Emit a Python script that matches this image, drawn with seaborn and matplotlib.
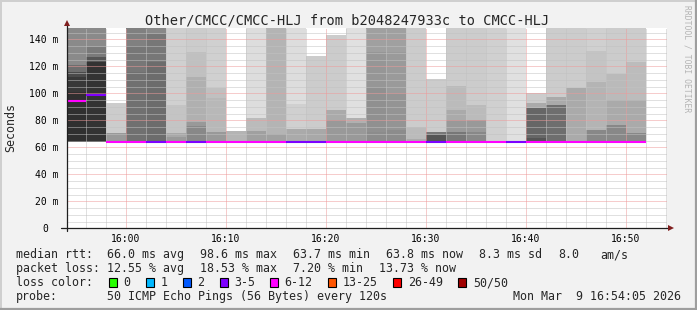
import matplotlib
matplotlib.use("Agg")
import matplotlib.pyplot as plt
from matplotlib.patches import Rectangle
from matplotlib.lines import Line2D
from matplotlib.ticker import MultipleLocator, FixedLocator
from matplotlib.transforms import ScaledTranslation
import numpy as np
import pandas as pd
import seaborn as sns

# ---------------- data ----------------
title = "Other/CMCC/CMCC-HLJ from b2048247933c to CMCC-HLJ"
slot_labels = ["15:54", "15:56", "15:58", "16:00", "16:02", "16:04", "16:06", "16:08",
               "16:10", "16:12", "16:14", "16:16", "16:18", "16:20", "16:22", "16:24",
               "16:26", "16:28", "16:30", "16:32", "16:34", "16:36", "16:38", "16:40",
               "16:42", "16:44", "16:46", "16:48", "16:50"]
median_rtt = [94.6, 99.0, 64.0, 64.0, 64.1, 63.9, 64.0, 64.0, 63.9, 64.0, 64.1, 64.0,
              63.9, 64.0, 64.0, 64.1, 64.0, 64.0, 63.9, 64.0, 64.0, 63.9, 64.0, 64.0,
              64.0, 63.9, 64.0, 64.0, 63.8]
loss_pings = [7, 4, 6, 8, 5, 7, 4, 6, 7, 6, 8, 5, 4, 7, 6, 9, 8, 6, 4, 6, 7, 6, 5, 8,
              7, 6, 6, 7, 7]
smoke_min = [63.8, 63.9, 63.8, 63.9, 63.9, 63.8, 63.9, 63.8, 63.9, 63.8, 63.9, 63.8,
             63.9, 63.8, 63.9, 63.8, 63.9, 63.8, 63.9, 63.8, 63.9, 63.8, 63.9, 63.8,
             63.9, 63.8, 63.9, 63.8, 63.8]
# smoke bands per slot, bottom -> top: upper rtt (ms) of each band
band_tops = [
    [101, 112, 116, 121, 149],
    [123, 127, 134, 149],
    [70.8, 92.6],
    [116, 135, 149],
    [123.4, 144, 149],
    [68, 70.4, 91.3, 149],
    [75.5, 79, 112.3, 130.8, 149],
    [71.6, 96.3, 103.7, 149],
    [72],
    [72, 82, 149],
    [70, 149],
    [73.8, 92.3, 149],
    [73.8, 127.8],
    [80.5, 87.6, 143.3],
    [78, 81.4, 149],
    [71.6, 104.9, 130.8, 149],
    [73, 100, 130.8, 149],
    [66, 75.3, 149],
    [69, 71.6, 110.6],
    [71.6, 80, 87.6, 105.4, 149],
    [71.6, 80, 91.3, 149],
    [149],
    [149],
    [67, 88.9, 92.6, 100.5],
    [91.3, 97.5, 149],
    [103.7, 149],
    [72.7, 108.6, 131, 149],
    [76.4, 95, 114, 149],
    [70.7, 95, 123.3, 149],
]
band_grays = [
    ["#2f2f2f", "#383838", "#4a4a4a", "#6e6e6e", "#8a8a8a"],
    ["#333333", "#555555", "#7a7a7a", "#8a8a8a"],
    ["#999999", "#cccccc"],
    ["#707070", "#777777", "#808080"],
    ["#6c6c6c", "#777777", "#888888"],
    ["#999999", "#a8a8a8", "#c4c4c4", "#d0d0d0"],
    ["#888888", "#999999", "#b0b0b0", "#c0c0c0", "#cccccc"],
    ["#999999", "#b8b8b8", "#c0c0c0", "#d0d0d0"],
    ["#b4b4b4"],
    ["#a0a0a0", "#bbbbbb", "#dddddd"],
    ["#a0a0a0", "#b4b4b4"],
    ["#aaaaaa", "#d0d0d0", "#dddddd"],
    ["#a8a8a8", "#cccccc"],
    ["#999999", "#aaaaaa", "#cccccc"],
    ["#999999", "#b0b0b0", "#e0e0e0"],
    ["#8c8c8c", "#909090", "#969696", "#a0a0a0"],
    ["#8c8c8c", "#949494", "#9a9a9a", "#a0a0a0"],
    ["#aaaaaa", "#bbbbbb", "#cccccc"],
    ["#555555", "#777777", "#cccccc"],
    ["#777777", "#999999", "#aaaaaa", "#bbbbbb", "#cccccc"],
    ["#888888", "#999999", "#bbbbbb", "#cccccc"],
    ["#d0d0d0"],
    ["#e0e0e0"],
    ["#555555", "#666666", "#aaaaaa", "#cccccc"],
    ["#6e6e6e", "#aaaaaa", "#cccccc"],
    ["#aaaaaa", "#cccccc"],
    ["#888888", "#b4b4b4", "#c4c4c4", "#d0d0d0"],
    ["#888888", "#aaaaaa", "#bababa", "#cccccc"],
    ["#888888", "#aaaaaa", "#bcbcbc", "#cccccc"],
]
loss_bin_labels = ["0", "1", "2", "3-5", "6-12", "13-25", "26-49", "50/50"]
loss_bin_lower = [0, 1, 2, 3, 6, 13, 26, 50]
loss_bin_colors = ["#26ff00", "#00b8ff", "#0059ff", "#7e00ff", "#ff00ff", "#ff5500",
                   "#ff0000", "#a10000"]
ytick_values = [0, 20, 40, 60, 80, 100, 120, 140]
ytick_labels = ["0", "20 m", "40 m", "60 m", "80 m", "100 m", "120 m", "140 m"]
xtick_labels = ["16:00", "16:10", "16:20", "16:30", "16:40", "16:50"]
graph_start = "15:54:05"
graph_end = "16:54:05"
rtt_row = ["median rtt:", "66.0 ms avg", "98.6 ms max", "63.7 ms min", "63.8 ms now",
           "8.3 ms sd", "8.0", "am/s"]
loss_row = ["packet loss:", "12.55 % avg", "18.53 % max", "7.20 % min", "13.73 % now"]
probe_row = ["probe:", "50 ICMP Echo Pings (56 Bytes) every 120s", "Mon Mar  9 16:54:05 2026"]
watermark = "RRDTOOL / TOBI OETIKER"
ylabel = "Seconds"

# ---------------- helpers ----------------
def minutes(hm):
    parts = [int(p) for p in hm.split(":")]
    while len(parts) < 3:
        parts.append(0)
    return (parts[0] - 16) * 60 + parts[1] + parts[2] / 60.0

W, H = 697, 310
DPI = 100
sns.set_theme(style="white")
plt.rcParams["font.family"] = ["DejaVu Sans Mono", "DejaVu Sans"]

fig = plt.figure(figsize=(W / DPI, H / DPI), dpi=DPI)
fig.patch.set_facecolor("#f2f2f2")

def fx(px):
    return px / W

def fy(py):
    return 1 - py / H

AX_L, AX_R, AX_T, AX_B = 66.7, 666.7, 28.3, 228.3
ax = fig.add_axes([fx(AX_L), fy(AX_B), (AX_R - AX_L) / W, (AX_B - AX_T) / H])
ax.set_facecolor("white")

x0, x1 = minutes(graph_start), minutes(graph_end)
ax.set_xlim(x0, x1)
ax.set_ylim(0, 200 / 1.35)

# smoke
slot_w = 2.0
for i, lab in enumerate(slot_labels):
    t = minutes(lab)
    prev = smoke_min[i]
    for top, g in zip(band_tops[i], band_grays[i]):
        ax.bar(t, top - prev, bottom=prev, width=slot_w, align="edge", color=g,
               linewidth=0, antialiased=False, zorder=1)
        prev = top

# median lines via seaborn, coloured by loss bin
def loss_bin(n):
    k = 0
    for j, lo in enumerate(loss_bin_lower):
        if n >= lo:
            k = j
    return loss_bin_labels[k]

rows = []
for i, lab in enumerate(slot_labels):
    t = minutes(lab)
    for tt in (t, t + slot_w):
        rows.append({"t": tt, "rtt": median_rtt[i], "slot": i, "loss": loss_bin(loss_pings[i])})
df = pd.DataFrame(rows)
palette = dict(zip(loss_bin_labels, loss_bin_colors))
sns.lineplot(data=df, x="t", y="rtt", hue="loss", units="slot", estimator=None,
             palette=palette, linewidth=1.5, legend=False, ax=ax, zorder=4,
             solid_capstyle="butt")

# ticks / grid / labels
ax.set_xticks([minutes(l) for l in xtick_labels])
ax.set_xticklabels(xtick_labels)
ax.set_yticks(ytick_values)
ax.set_yticklabels(ytick_labels)
ax.xaxis.set_minor_locator(MultipleLocator(2))
ax.yaxis.set_minor_locator(MultipleLocator(5))
ax.set_xlim(x0, x1)
ax.set_ylim(0, 200 / 1.35)
ax.set_axisbelow(False)
ax.grid(which="minor", color="#c2c2c2", linestyle=(0, (1, 1)), linewidth=0.72,
        snap=True)
ax.grid(which="major", color="#ee9a9a", linestyle=(0, (1, 1)), linewidth=0.72,
        snap=True)
ax.tick_params(axis="both", which="both", direction="out", labelsize=7, colors="black")
ax.tick_params(axis="both", which="major", length=2, color="#e07070", width=0.72)
ax.tick_params(axis="both", which="minor", length=2, color="#a0a0a0", width=0.72)
ax.tick_params(axis="y", which="major", pad=4.0)
ax.tick_params(axis="x", which="major", pad=2.2)
for lbl in ax.get_yticklabels():
    if lbl.get_text() == "0":
        lbl.set_transform(lbl.get_transform() + ScaledTranslation(-10.6 / DPI, 0, fig.dpi_scale_trans))
ax.set_xlabel("")
ax.set_ylabel("")
for s in ax.spines.values():
    s.set_visible(False)

# axes lines with arrows (axes coordinates)
ax.add_line(Line2D([-6 / 600, 601.5 / 600], [0, 0], color="#1f1f1f", lw=0.9,
                   transform=ax.transAxes, clip_on=False, zorder=5))
ax.add_line(Line2D([0, 0], [-3 / 200, 205 / 200], color="#1f1f1f", lw=0.9,
                   transform=ax.transAxes, clip_on=False, zorder=5))
ax.plot([0], [(200 + 5.5) / 200], marker="^", color="#801f1f", markersize=4.2,
        transform=ax.transAxes, clip_on=False, zorder=6, markeredgewidth=0)
ax.plot([(600 + 4) / 600], [0], marker=">", color="#801f1f", markersize=4.2,
        transform=ax.transAxes, clip_on=False, zorder=6, markeredgewidth=0)

# text
fig.text(fx(347.5), fy(24), title, ha="center", va="baseline", fontsize=9.8)
fig.text(fx(10.5), fy(127), ylabel, ha="center", va="center", rotation=90, fontsize=8.4)
fig.text(fx(687.5), fy(5), watermark, ha="center", va="top", rotation=-90,
         fontsize=5.8, color="#b4b4b4")

LEG = 8.4
rtt_x = [16, 107, 200, 293.3, 386, 479.3, 558.3, 600]
for x, s in zip(rtt_x, rtt_row):
    fig.text(fx(x), fy(258.3), s, ha="left", va="baseline", fontsize=LEG)
loss_x = [16, 107, 200, 293.3, 379.3]
for x, s in zip(loss_x, loss_row):
    fig.text(fx(x), fy(272.1), s, ha="left", va="baseline", fontsize=LEG)
fig.text(fx(16), fy(286), "loss color:", ha="left", va="baseline", fontsize=LEG)
sq_x = [108.7, 145.7, 182.7, 219.7, 270, 328.3, 393.3, 458.3]
for x, lab, c in zip(sq_x, loss_bin_labels, loss_bin_colors):
    fig.patches.append(Rectangle((fx(x), fy(286.5)), 8 / W, 8.5 / H, transform=fig.transFigure,
                                 facecolor=c, edgecolor="black", linewidth=0.8))
    fig.text(fx(x + 14.7), fy(286), lab, ha="left", va="baseline", fontsize=LEG)
probe_x = [16, 107, 512.7]
for x, s in zip(probe_x, probe_row):
    fig.text(fx(x), fy(299.8), s, ha="left", va="baseline", fontsize=LEG)

# 3d frame
fig.add_artist(Line2D([0, 1], [fy(0.8), fy(0.8)], color="#cfcfcf", lw=1.4, transform=fig.transFigure))
fig.add_artist(Line2D([fx(0.8), fx(0.8)], [0, 1], color="#cfcfcf", lw=1.4, transform=fig.transFigure))
fig.add_artist(Line2D([0, 1], [fy(309), fy(309)], color="#9e9e9e", lw=1.6, transform=fig.transFigure))
fig.add_artist(Line2D([fx(696), fx(696)], [0, 1], color="#9e9e9e", lw=1.6, transform=fig.transFigure))

fig.savefig("out.png", dpi=DPI, facecolor=fig.get_facecolor())
